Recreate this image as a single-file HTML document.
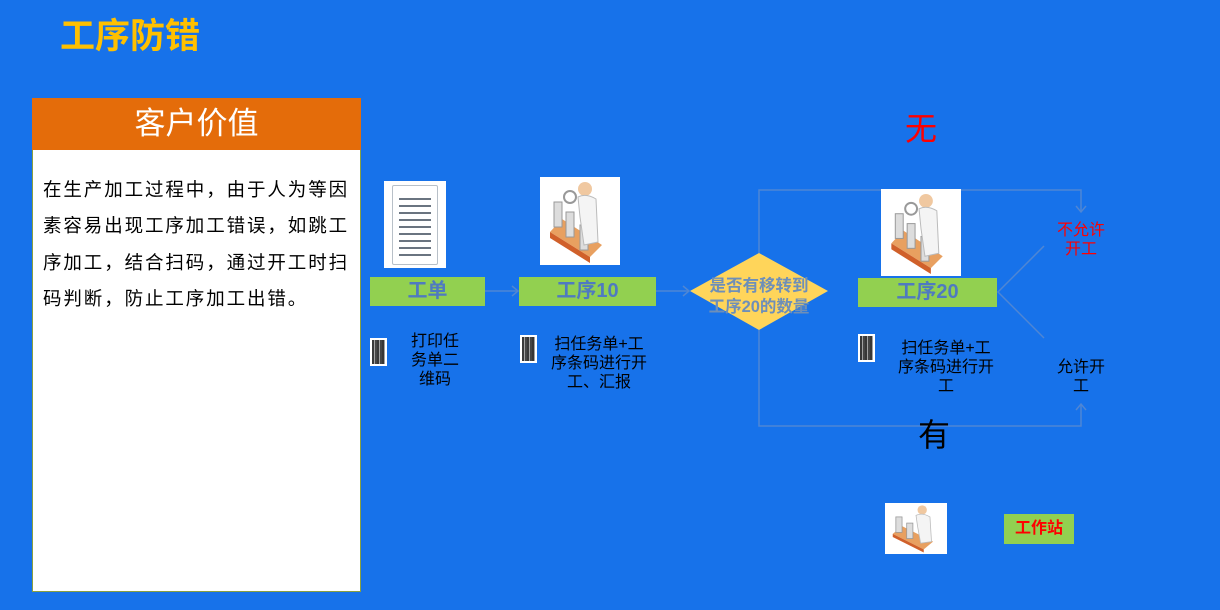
<!DOCTYPE html>
<html><head><meta charset="utf-8"><style>
*{margin:0;padding:0;box-sizing:border-box}
body{width:1220px;height:610px;background:#1772EA;position:relative;overflow:hidden;font-family:"Liberation Sans","Noto Sans CJK SC",sans-serif}
.a{position:absolute}
.g{position:absolute;background:#92D050;color:#4F7AC0;font-weight:bold;font-size:20px;text-align:center}
.t{position:absolute;font-size:16px;line-height:19px;color:#000;text-align:center}
.qr{position:absolute;background:#fff;padding:2px}
.qr div{width:100%;height:100%;background:repeating-linear-gradient(90deg,#222 0 2px,#999 2px 3px,#333 3px 5px),#444;opacity:.9}
.img{position:absolute;background:#fff}
</style></head><body>
<div class="a" style="left:60px;top:8px;font-size:35px;font-weight:bold;color:#FFC000;">工序防错</div>
<div class="a" style="left:32px;top:98px;width:329px;height:494px;background:#fff;border:1px solid #8aa040"></div>
<div class="a" style="left:32px;top:98px;width:329px;height:52px;background:#E46C0A;color:#fff;font-size:31px;text-align:center;line-height:52px">客户价值</div>
<div class="a" style="left:43px;top:172px;width:320px;font-size:18.5px;letter-spacing:1.9px;line-height:36.3px;color:#000;white-space:nowrap">在生产加工过程中，由于人为等因<br>素容易出现工序加工错误，如跳工<br>序加工，结合扫码，通过开工时扫<br>码判断，防止工序加工出错。</div>

<svg class="a" style="left:0;top:0" width="1220" height="610">
<g stroke="#4f86d4" stroke-width="1.5" fill="none">
<line x1="485" y1="291" x2="518" y2="291"/><polyline points="512,286 518,291 512,296"/>
<line x1="656" y1="291" x2="689" y2="291"/><polyline points="683,286 689,291 683,296"/>
<polyline points="759,253 759,190 1081,190 1081,212"/><polyline points="1076,206 1081,212 1086,206"/>
<polyline points="759,330 759,426 1081,426 1081,404"/><polyline points="1076,410 1081,404 1086,410"/>
<polyline points="1044,246 998,292 1044,338"/>
</g>
<polygon points="690,291 759,253 828,291 759,330" fill="#FFD55A"/>
<text x="759" y="291" text-anchor="middle" font-size="16.5" font-weight="bold" fill="#6E8FB8" font-family="Liberation Sans,Noto Sans CJK SC,sans-serif">是否有移转到</text>
<text x="759" y="312" text-anchor="middle" font-size="16.5" font-weight="bold" fill="#6E8FB8" font-family="Liberation Sans,Noto Sans CJK SC,sans-serif">工序20的数量</text>
</svg>

<div class="img" style="left:384px;top:181px;width:62px;height:87px">
<div class="a" style="left:8px;top:4px;width:46px;height:80px;background:linear-gradient(#fff,#e6ebf0);border:1px solid #b8c0c8;border-radius:2px;background-image:repeating-linear-gradient(#fff 0 5px,#6a7480 5px 7px);background-clip:content-box;padding:8px 6px"></div>
</div>

<svg class="img" style="left:540px;top:177px" width="80" height="88" viewBox="0 0 80 88"><rect width="80" height="88" fill="#fff"/><path d="M10 55 L50 80 L62 68 L22 42Z" fill="#e8a060"/><path d="M10 55 L50 80 L50 86 L10 61Z" fill="#d0602a"/><rect x="14" y="25" width="8" height="25" fill="#ddd" stroke="#999"/><rect x="26" y="35" width="8" height="25" fill="#ddd" stroke="#999"/><rect x="40" y="48" width="8" height="25" fill="#ddd" stroke="#999"/><circle cx="45" cy="12" r="7" fill="#f0c8a0"/><path d="M38 20 Q46 16 56 22 L58 65 L44 68 L40 40Z" fill="#f4f4f4" stroke="#bbb"/><circle cx="30" cy="20" r="6" fill="none" stroke="#999" stroke-width="2"/></svg>

<svg class="img" style="left:881px;top:189px" width="80" height="87" viewBox="0 0 80 88"><rect width="80" height="88" fill="#fff"/><path d="M10 55 L50 80 L62 68 L22 42Z" fill="#e8a060"/><path d="M10 55 L50 80 L50 86 L10 61Z" fill="#d0602a"/><rect x="14" y="25" width="8" height="25" fill="#ddd" stroke="#999"/><rect x="26" y="35" width="8" height="25" fill="#ddd" stroke="#999"/><rect x="40" y="48" width="8" height="25" fill="#ddd" stroke="#999"/><circle cx="45" cy="12" r="7" fill="#f0c8a0"/><path d="M38 20 Q46 16 56 22 L58 65 L44 68 L40 40Z" fill="#f4f4f4" stroke="#bbb"/><circle cx="30" cy="20" r="6" fill="none" stroke="#999" stroke-width="2"/></svg>

<svg class="img" style="left:885px;top:503px" width="62" height="51" viewBox="0 0 80 66" preserveAspectRatio="none"><rect width="80" height="66" fill="#fff"/><path d="M10 40 L50 60 L62 50 L22 30Z" fill="#e8a060"/><path d="M10 40 L50 60 L50 64 L10 44Z" fill="#d0602a"/><rect x="14" y="18" width="8" height="20" fill="#ddd" stroke="#999"/><rect x="28" y="26" width="8" height="20" fill="#ddd" stroke="#999"/><circle cx="48" cy="9" r="6" fill="#f0c8a0"/><path d="M40 16 Q48 12 58 18 L60 50 L46 52 L42 30Z" fill="#f4f4f4" stroke="#bbb"/></svg>

<div class="g" style="left:370px;top:277px;width:115px;height:29px;line-height:29px">工单</div>
<div class="g" style="left:519px;top:277px;width:137px;height:29px;line-height:29px">工序10</div>
<div class="g" style="left:858px;top:278px;width:139px;height:29px;line-height:29px">工序20</div>
<div class="g" style="left:1004px;top:514px;width:70px;height:30px;line-height:30px;color:#FF0000;font-size:16px">工作站</div>

<div class="qr" style="left:370px;top:338px;width:17px;height:28px"><div></div></div>
<div class="qr" style="left:520px;top:335px;width:17px;height:28px"><div></div></div>
<div class="qr" style="left:858px;top:334px;width:17px;height:28px"><div></div></div>

<div class="t" style="left:400px;top:332px;width:70px">打印任<br>务单二<br>维码</div>
<div class="t" style="left:543px;top:335px;width:112px">扫任务单+工<br>序条码进行开<br>工、汇报</div>
<div class="t" style="left:890px;top:339px;width:112px">扫任务单+工<br>序条码进行开<br>工</div>
<div class="t" style="left:1045px;top:221px;width:72px;color:#FF0000">不允许<br>开工</div>
<div class="t" style="left:1045px;top:358px;width:72px">允许开<br>工</div>
<div class="a" style="left:905px;top:104px;font-size:32px;color:#FF0000">无</div>
<div class="a" style="left:918px;top:410px;font-size:32px;color:#000">有</div>
</body></html>
